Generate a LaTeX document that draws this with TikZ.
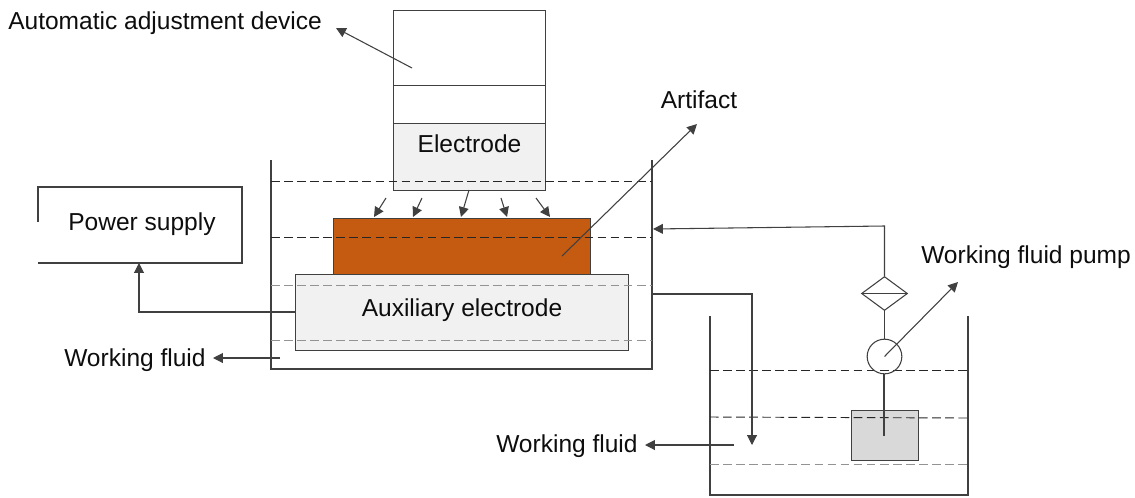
\documentclass[tikz,border=0pt]{standalone}
\usepackage{fontspec}
\setmainfont{Liberation Sans}
\usetikzlibrary{arrows.meta,shapes.geometric}
\definecolor{boxfill}{HTML}{F1F1F1}
\definecolor{artifactfill}{HTML}{C55A11}
\definecolor{pumpfill}{HTML}{D9D9D9}
\tikzset{
  x=0.75pt,y=-0.75pt,
  line/.style={draw=black!75,line width=0.8pt},
  arrowline/.style={line,-{Triangle[length=7.4pt,width=7.4pt]}},
  level/.style={draw=black!85,line width=0.7pt,dash pattern=on 6.5pt off 3.3pt},
  levelgray/.style={draw=gray!85,line width=0.7pt,dash pattern=on 6.5pt off 3.3pt},
  part/.style={draw=black!75,line width=0.8pt,inner sep=0pt,anchor=north west},
  label/.style={font=\fontsize{18.4pt}{20pt}\selectfont,text=black!95,inner sep=0pt},
}
\newcommand{\partbox}[6]{% name, x, y, w, h, style
  \node[part,minimum width=#4*0.75pt,minimum height=#5*0.75pt,#6] (#1) at (#2,#3) {};}
\begin{document}
\begin{tikzpicture}
\useasboundingbox (0,0) rectangle (1135,497);
% main tank
\coordinate (tl) at (271,160); \coordinate (tbl) at (271,369);
\coordinate (tbr) at (652,369); \coordinate (tr) at (652,160);
\draw[line] (tl) -- (tbl) -- (tbr) -- (tr);
% upper column
\partbox{adj}{393}{10}{151.5}{75}{}
\partbox{mid}{393}{85}{151.5}{38}{}
\partbox{electrode}{393}{123}{151.5}{67}{fill=boxfill}
% artifact
\partbox{artifact}{333}{218}{257}{56}{fill=artifactfill}
% auxiliary
\partbox{aux}{295}{274}{333}{76}{fill=boxfill}
% levels in main tank
\draw[level] (271,181) -- (652,181);
\draw[level] (271,237) -- (652,237);
\draw[levelgray] (271,285) -- (652,285);
\draw[levelgray] (271,340) -- (652,340);
% power supply (open left side)
\coordinate (pa) at (38,222); \coordinate (pb) at (38,187); \coordinate (pc) at (242,187);
\coordinate (pd) at (242,263); \coordinate (pe) at (38,263);
\draw[line] (pa) -- (pb) -- (pc) -- (pd) -- (pe);
\coordinate (psin) at (139,263);
\coordinate (auxl) at (295,312);
\draw[arrowline] (auxl) -- (139,312) -- (psin);
% electrode sparks
\coordinate (e1s) at (386,198); \coordinate (e1e) at (374,217);
\coordinate (e2s) at (422,198); \coordinate (e2e) at (413,217);
\coordinate (e3s) at (469,190); \coordinate (e3e) at (461,217);
\coordinate (e4s) at (501,198); \coordinate (e4e) at (507,217);
\coordinate (e5s) at (536,198); \coordinate (e5e) at (550,217);
\foreach \i in {1,...,5} \draw[arrowline] (e\i s) -- (e\i e);
% labels
\node[label,anchor=base west] (lauto) at (8,29.5) {Automatic adjustment device};
\node[label,anchor=base] (lelec) at (469.5,152) {Electrode};
\node[label,anchor=base] (lart) at (699,108) {Artifact};
\node[label,anchor=base] (lpower) at (142,230.5) {Power supply};
\node[label,anchor=base] (laux) at (462,316.7) {Auxiliary electrode};
\node[label,anchor=base west] (lwf1) at (64,366) {Working fluid};
\node[label,anchor=base west] (lwf2) at (496,452) {Working fluid};
\node[label,anchor=base west] (lpump) at (921,263) {Working fluid pump};
% pointers
\coordinate (a1) at (412,68); \coordinate (a2) at (336,28);
\draw[arrowline] (a1) -- (a2);
\coordinate (b1) at (562,256); \coordinate (b2) at (697,124);
\draw[arrowline] (b1) -- (b2);
\coordinate (c1) at (280,358); \coordinate (c2) at (213,358);
\draw[arrowline] (c1) -- (c2);
% right tank
\coordinate (rl) at (710,316); \coordinate (rbl) at (710,495);
\coordinate (rbr) at (968,495); \coordinate (rr) at (968,316);
\draw[line] (rl) -- (rbl) -- (rbr) -- (rr);
\partbox{pumpbox}{851}{410}{67}{50}{fill=pumpfill}
\draw[level] (710,370) -- (968,370);
\draw[level] (710,417) -- (968,418);
\draw[levelgray] (710,464) -- (968,464);
\node[circle,draw=black!75,line width=0.8pt,minimum size=26pt,inner sep=0pt] (pump) at (884.5,356.5) {};
\node[diamond,draw=black!75,line width=0.8pt,minimum width=34.5pt,minimum height=25.5pt,inner sep=0pt,aspect=1.35] (filter) at (884.5,293.5) {};
\draw[line] (filter.west) -- (filter.east);
\coordinate (pipeend) at (884,436);
\draw[line] (pipeend) -- (pipeend |- pump.south);
\draw[line] (pump.north) -- (filter.south);
\coordinate (tankin) at (653,229);
\draw[arrowline] (filter.north) -- (884.5,226) -- (tankin);
\coordinate (ret) at (652,294);
\draw[arrowline] (ret) -- (752,294) -- (752,445);
\coordinate (d1) at (734,445); \coordinate (d2) at (645,445);
\draw[arrowline] (d1) -- (d2);
\coordinate (f2) at (958,282);
\draw[arrowline] (pump.center) -- (f2);
\end{tikzpicture}
\end{document}
